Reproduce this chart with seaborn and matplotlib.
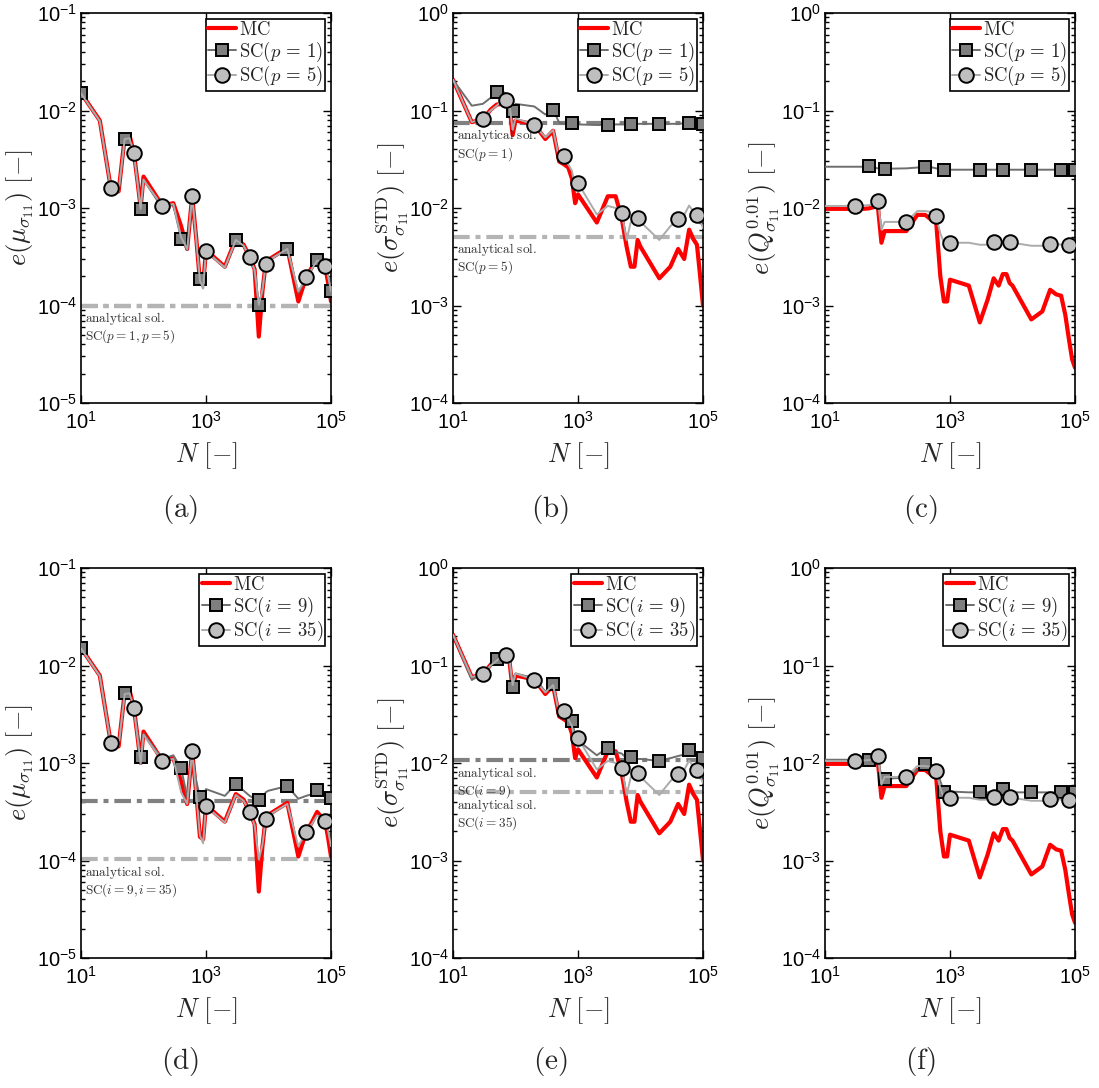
import numpy as np
import pandas as pd
import matplotlib
matplotlib.use("Agg")
import matplotlib.pyplot as plt
from matplotlib.lines import Line2D
from matplotlib.ticker import LogLocator, NullLocator, NullFormatter
import seaborn as sns

sns.set_style("ticks")
plt.rcParams['font.family'] = ['Liberation Sans', 'DejaVu Sans']
plt.rcParams['mathtext.fontset'] = 'cm'

# ---------------- data ----------------
N = [10, 20, 30, 40, 50, 60, 70, 80, 90,
     100, 200, 300, 400, 500, 600, 700, 800, 900,
     1000, 2000, 3000, 4000, 5000, 6000, 7000, 8000, 9000,
     10000, 20000, 30000, 40000, 50000, 60000, 70000, 80000, 90000,
     100000]

# error of the mean
mc_mean = [1.51e-2, 7.9e-3, 1.6e-3, 1.48e-3, 5.3e-3, 5.5e-3, 3.7e-3, 1.9e-3, 1.0e-3,
           2.1e-3, 1.06e-3, 1.12e-3, 6.5e-4, 3.8e-4, 1.32e-3, 4.8e-4, 1.75e-4, 1.65e-4,
           3.7e-4, 2.5e-4, 4.8e-4, 4.2e-4, 3.15e-4, 2.35e-4, 4.8e-5, 1.4e-4, 2.7e-4,
           2.95e-4, 3.9e-4, 1.1e-4, 1.95e-4, 2.5e-4, 3.15e-4, 2.8e-4, 2.6e-4, 1.7e-4,
           1.1e-4]
sc_p1_mean = [1.5e-2, 7.8e-3, 1.55e-3, 1.45e-3, 5.1e-3, 5.2e-3, 3.6e-3, 1.85e-3, 9.8e-4,
              1.95e-3, 1.0e-3, 1.08e-3, 4.8e-4, 3.7e-4, 1.3e-3, 4.6e-4, 1.85e-4, 1.5e-4,
              3.6e-4, 2.45e-4, 4.7e-4, 4.1e-4, 3.1e-4, 2.3e-4, 1.02e-4, 1.4e-4, 2.6e-4,
              2.9e-4, 3.8e-4, 1.35e-4, 1.9e-4, 2.4e-4, 2.9e-4, 2.75e-4, 2.5e-4, 2.0e-4,
              1.42e-4]
sc_p5_mean = [1.5e-2, 7.8e-3, 1.6e-3, 1.5e-3, 5.1e-3, 5.2e-3, 3.65e-3, 1.85e-3, 9.8e-4,
              1.95e-3, 1.05e-3, 1.1e-3, 5.0e-4, 3.8e-4, 1.32e-3, 4.7e-4, 1.8e-4, 1.5e-4,
              3.6e-4, 2.45e-4, 4.7e-4, 4.1e-4, 3.15e-4, 2.3e-4, 1.02e-4, 1.45e-4, 2.65e-4,
              2.9e-4, 3.8e-4, 1.4e-4, 1.95e-4, 2.4e-4, 2.9e-4, 2.75e-4, 2.55e-4, 2.0e-4,
              1.4e-4]
sc_i9_mean = [1.5e-2, 7.8e-3, 1.55e-3, 1.5e-3, 5.2e-3, 5.3e-3, 3.6e-3, 2.0e-3, 1.15e-3,
              2.0e-3, 1.1e-3, 1.2e-3, 8.8e-4, 4.5e-4, 1.2e-3, 6.5e-4, 4.5e-4, 4.6e-4,
              5.4e-4, 4.6e-4, 6.1e-4, 5.2e-4, 4.6e-4, 4.3e-4, 4.2e-4, 4.3e-4, 5.0e-4,
              5.2e-4, 5.8e-4, 4.3e-4, 4.6e-4, 4.8e-4, 5.3e-4, 5.0e-4, 4.8e-4, 4.6e-4,
              4.4e-4]
sc_i35_mean = sc_p5_mean

# error of the standard deviation
mc_std = [0.207, 0.076, 0.081, 0.102, 0.115, 0.117, 0.12, 0.112, 0.056,
          0.079, 0.072, 0.051, 0.062, 0.030, 0.028, 0.026, 0.020, 0.0112,
          0.0138, 0.0071, 0.0132, 0.0132, 0.0079, 0.0040, 0.0025, 0.0025, 0.0047,
          0.0040, 0.0019, 0.0025, 0.0038, 0.0030, 0.0060, 0.0048, 0.0042, 0.0020,
          0.0010]
sc_p1_std = [0.207, 0.112, 0.117, 0.135, 0.155, 0.158, 0.15, 0.126, 0.098,
             0.117, 0.11, 0.091, 0.102, 0.075, 0.073, 0.073, 0.0737, 0.0725,
             0.072, 0.071, 0.071, 0.072, 0.072, 0.072, 0.073, 0.073, 0.073,
             0.073, 0.073, 0.073, 0.073, 0.074, 0.075, 0.074, 0.074, 0.073,
             0.073]
sc_p5_std = [0.207, 0.076, 0.082, 0.10, 0.112, 0.125, 0.129, 0.118, 0.063,
             0.083, 0.0716, 0.053, 0.063, 0.032, 0.034, 0.028, 0.024, 0.016,
             0.018, 0.0086, 0.0105, 0.010, 0.0089, 0.0047, 0.0072, 0.0076, 0.0079,
             0.0072, 0.0047, 0.0065, 0.0077, 0.0085, 0.0106, 0.0092, 0.0085, 0.0075,
             0.0062]
sc_i9_std = [0.207, 0.071, 0.083, 0.10, 0.117, 0.125, 0.129, 0.105, 0.060,
             0.083, 0.074, 0.054, 0.065, 0.032, 0.033, 0.030, 0.0267, 0.020,
             0.017, 0.012, 0.0144, 0.013, 0.0125, 0.0112, 0.0116, 0.0112, 0.011,
             0.011, 0.0105, 0.0112, 0.0118, 0.0122, 0.0135, 0.0125, 0.012, 0.0116,
             0.0112]
sc_i35_std = sc_p5_std

# error of the 0.01 quantile
mc_q = [0.0098, 0.0098, 0.0098, 0.0098, 0.0099, 0.0102, 0.0105, 0.0044, 0.0058,
        0.0058, 0.0058, 0.0085, 0.0085, 0.0076, 0.0073, 0.0020, 0.0011, 0.0011,
        0.00184, 0.0016, 0.00067, 0.00115, 0.0019, 0.0016, 0.0021, 0.0021, 0.0017,
        0.0016, 0.00072, 0.00087, 0.00145, 0.0013, 0.00126, 0.0008, 0.00045, 0.00028,
        0.00023]
sc_p1_q = [0.0265, 0.0265, 0.0265, 0.0265, 0.0267, 0.026, 0.0255, 0.0252, 0.0253,
           0.0253, 0.0255, 0.026, 0.0263, 0.0262, 0.0255, 0.025, 0.0247, 0.0247,
           0.0247, 0.0247, 0.0247, 0.0247, 0.0247, 0.0247, 0.0247, 0.0247, 0.0247,
           0.0247, 0.0247, 0.0247, 0.0247, 0.0247, 0.0247, 0.0247, 0.0247, 0.0247,
           0.0247]
sc_p5_q = [0.0105, 0.0105, 0.0106, 0.0106, 0.0107, 0.011, 0.0119, 0.0060, 0.0072,
           0.0072, 0.0072, 0.0093, 0.0093, 0.0091, 0.0082, 0.0055, 0.0044, 0.0044,
           0.0044, 0.0044, 0.0042, 0.0042, 0.0045, 0.0045, 0.0045, 0.0045, 0.0045,
           0.0044, 0.0041, 0.0041, 0.0043, 0.0043, 0.0042, 0.0042, 0.0042, 0.0042,
           0.0042]
sc_i9_q = [0.0108, 0.0108, 0.0108, 0.0108, 0.0108, 0.011, 0.0115, 0.0072, 0.0069,
           0.0069, 0.0071, 0.0085, 0.0098, 0.0095, 0.0092, 0.0065, 0.0051, 0.0051,
           0.0051, 0.0050, 0.0050, 0.0050, 0.0051, 0.0052, 0.0054, 0.0052, 0.0050,
           0.0050, 0.0050, 0.0050, 0.0050, 0.0050, 0.0050, 0.0050, 0.0050, 0.0050,
           0.0050]
sc_i35_q = sc_p5_q

# analytical solutions
ana_mean_p1, ana_mean_p5 = 1.0e-4, 1.0e-4
ana_std_p1, ana_std_p5 = 0.0744, 0.0051
ana_mean_i9, ana_mean_i35 = 4.1e-4, 1.03e-4
ana_std_i9, ana_std_i35 = 0.0107, 0.0050

labels_p = ["MC", "SC(p = 1)", "SC(p = 5)"]
labels_i = ["MC", "SC(i = 9)", "SC(i = 35)"]
captions = ["(a)", "(b)", "(c)", "(d)", "(e)", "(f)"]

# ---------------- style ----------------
RED = "#ff0000"
DARK_LINE = "#6e6e6e"
LIGHT_LINE = "#ababab"
SQ_FACE = "#7f7f7f"
CI_FACE = "#bfbfbf"
ANA_DARK = "#808080"
ANA_LIGHT = "#b4b4b4"
DASHDOT = (0, (4.0, 1.4, 1.2, 1.4))

fig = plt.figure(figsize=(10.99, 10.88), dpi=100)
W, H = 1099.0, 1088.0

def add_ax(left_px, top_px):
    return fig.add_axes([left_px / W, 1 - (top_px + 390) / H, 250 / W, 390 / H])

lefts = [81, 453, 825]
tops = [13, 568]

ylabels = [r"$e(\mu_{\sigma_{11}})\ [-]$",
           r"$e(\sigma^{\mathrm{STD}}_{\sigma_{11}})\ [-]$",
           r"$e(Q^{0.01}_{\sigma_{11}})\ [-]$"]
ylims = [(1e-5, 1e-1), (1e-4, 1e0), (1e-4, 1e0)]
ylab_x = [-0.178, -0.168, -0.172]

def tex(s):
    if s == "MC":
        return r"$\mathrm{MC}$"
    var, num = s[3:-1].split(" = ")
    return r"$\mathrm{SC}(" + var + r"\,=\," + num + ")$"

def draw_panel(ax, mc, sc1, sc2, sq_start, ana, labels, col):
    for val, color in ana:
        ax.axhline(val, color=color, lw=3.0, ls=DASHDOT, zorder=1.5)
    df = pd.DataFrame({"N": N, "MC": mc, "S1": sc1, "S2": sc2})
    sns.lineplot(data=df, x="N", y="MC", ax=ax, color=RED, lw=3.0,
                 estimator=None, sort=False, zorder=2)
    sns.lineplot(data=df, x="N", y="S1", ax=ax, color=DARK_LINE, lw=1.4,
                 marker="s", markersize=8.5, markerfacecolor=SQ_FACE,
                 markeredgecolor="black", markeredgewidth=1.4,
                 markevery=list(range(sq_start, len(N), 4)),
                 estimator=None, sort=False, zorder=3)
    sns.lineplot(data=df, x="N", y="S2", ax=ax, color=LIGHT_LINE, lw=1.4,
                 marker="o", markersize=10.5, markerfacecolor=CI_FACE,
                 markeredgecolor="black", markeredgewidth=1.4,
                 markevery=list(range(2, len(N), 4)),
                 estimator=None, sort=False, zorder=4)
    ax.set_xscale("log")
    ax.set_yscale("log")
    ax.set_xlim(10, 1e5)
    ax.set_ylim(*ylims[col])
    ax.set_xticks([1e1, 1e3, 1e5])
    ax.xaxis.set_minor_locator(NullLocator())
    ax.yaxis.set_major_locator(LogLocator(base=10, numticks=10))
    ax.yaxis.set_minor_locator(LogLocator(base=10, subs=np.arange(2, 10), numticks=20))
    ax.yaxis.set_minor_formatter(NullFormatter())
    ax.tick_params(which="both", direction="in", top=True, right=True,
                   labelsize=14.5, width=1.0, colors="black")
    ax.tick_params(which="major", length=6)
    ax.tick_params(axis="x", which="major", pad=6)
    ax.tick_params(axis="y", which="major", pad=3)
    ax.tick_params(which="minor", length=3)
    for sp in ax.spines.values():
        sp.set_linewidth(1.2)
        sp.set_color("black")
    ax.set_xlabel(r"$N\ [-]$", fontsize=19)
    ax.set_ylabel(ylabels[col], fontsize=19)
    ax.xaxis.set_label_coords(0.5, -0.095)
    ax.yaxis.set_label_coords(ylab_x[col], 0.5)
    handles = [
        Line2D([], [], color=RED, lw=3.0),
        Line2D([], [], color=DARK_LINE, lw=1.4, marker="s", markersize=8.5,
               markerfacecolor=SQ_FACE, markeredgecolor="black", markeredgewidth=1.4),
        Line2D([], [], color=LIGHT_LINE, lw=1.4, marker="o", markersize=10.5,
               markerfacecolor=CI_FACE, markeredgecolor="black", markeredgewidth=1.4),
    ]
    leg = ax.legend(handles, [tex(l) for l in labels], loc="upper right",
                    fontsize=13.5, frameon=True, fancybox=False, framealpha=1,
                    edgecolor="black", borderpad=0.12, labelspacing=0.03,
                    handlelength=1.5, handletextpad=0.15, borderaxespad=0.3)
    leg.get_frame().set_linewidth(1.2)

def annotate(ax, val, second):
    ax.text(11.8, val * 0.9, r"$\mathrm{analytical\ sol.}$" + "\n" + second,
            fontsize=9.5, color="#333333", va="top", ha="left", linespacing=1.05,
            zorder=5)

# (a)
ax = add_ax(lefts[0], tops[0])
draw_panel(ax, mc_mean, sc_p1_mean, sc_p5_mean, 0,
           [(ana_mean_p1, ANA_DARK), (ana_mean_p5, ANA_LIGHT)], labels_p, 0)
annotate(ax, ana_mean_p5, r"$\mathrm{SC}(p=1,p=5)$")
# (b)
ax = add_ax(lefts[1], tops[0])
draw_panel(ax, mc_std, sc_p1_std, sc_p5_std, 4,
           [(ana_std_p1, ANA_DARK), (ana_std_p5, ANA_LIGHT)], labels_p, 1)
annotate(ax, ana_std_p1, r"$\mathrm{SC}(p=1)$")
annotate(ax, ana_std_p5, r"$\mathrm{SC}(p=5)$")
# (c)
ax = add_ax(lefts[2], tops[0])
draw_panel(ax, mc_q, sc_p1_q, sc_p5_q, 4, [], labels_p, 2)
# (d)
ax = add_ax(lefts[0], tops[1])
draw_panel(ax, mc_mean, sc_i9_mean, sc_i35_mean, 0,
           [(ana_mean_i9, ANA_DARK), (ana_mean_i35, ANA_LIGHT)], labels_i, 0)
annotate(ax, ana_mean_i35, r"$\mathrm{SC}(i=9,i=35)$")
# (e)
ax = add_ax(lefts[1], tops[1])
draw_panel(ax, mc_std, sc_i9_std, sc_i35_std, 4,
           [(ana_std_i9, ANA_DARK), (ana_std_i35, ANA_LIGHT)], labels_i, 1)
annotate(ax, ana_std_i9, r"$\mathrm{SC}(i=9)$")
annotate(ax, ana_std_i35, r"$\mathrm{SC}(i=35)$")
# (f)
ax = add_ax(lefts[2], tops[1])
draw_panel(ax, mc_q, sc_i9_q, sc_i35_q, 4, [], labels_i, 2)

cap_x = [180, 550, 920]
cap_y = [510, 1062]
for k, cap in enumerate(captions):
    r, c = divmod(k, 3)
    fig.text(cap_x[c] / W, 1 - cap_y[r] / H, r"$(\mathrm{" + cap[1] + "})$",
             fontsize=21, ha="center", va="center")

fig.savefig("out.png", dpi=100, facecolor="white")
